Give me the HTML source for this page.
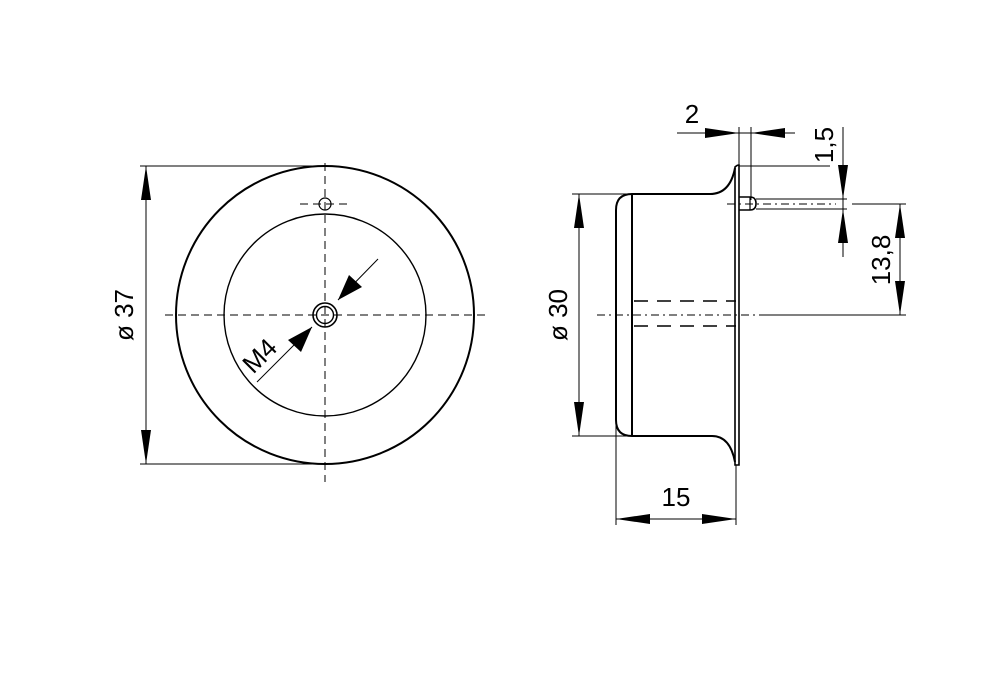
<!DOCTYPE html>
<html><head><style>body{margin:0;background:#fff}svg{display:block}</style></head>
<body>
<svg width="1000" height="698" viewBox="0 0 1000 698" xmlns="http://www.w3.org/2000/svg" font-family="Liberation Sans, DejaVu Sans, sans-serif">
<g fill="none" stroke="#000">
<!-- left view -->
<circle cx="325" cy="315" r="149" stroke-width="2"/>
<circle cx="325" cy="315" r="101" stroke-width="1.4"/>
<circle cx="325" cy="204" r="6" stroke-width="1.2"/>
<circle cx="325" cy="315" r="12" stroke-width="1.6"/>
<circle cx="325" cy="315" r="8.5" stroke-width="1.4"/>
<g stroke-width="1" stroke-dasharray="8,5">
<line x1="165" y1="315" x2="488" y2="315"/>
<line x1="325" y1="163" x2="325" y2="482"/>
<line x1="300" y1="204" x2="352" y2="204"/>
</g>
<g stroke-width="1">
<line x1="140" y1="166" x2="325" y2="166"/>
<line x1="140" y1="464" x2="325" y2="464"/>
<line x1="146" y1="166" x2="146" y2="464"/>
<line x1="378" y1="259" x2="338" y2="300"/>
<line x1="312" y1="327" x2="257" y2="382"/>
</g>
<!-- right view -->
<path d="M735 465 V167 Q737 165 739 165 V465 Z" stroke-width="1.6"/>
<path d="M735 168 Q730 194 710 194 H632 M616 420 V210 Q616 194 632 194 M632 194 V436 M616 420 Q616 436 632 436 H712 Q730 436 735 462" stroke-width="2"/>
<path d="M739 197 H750 Q756 197 756 203.5 Q756 210 750 210 H739" stroke-width="1.6"/>
<line x1="750" y1="197" x2="750" y2="210" stroke-width="1.2"/>
<g stroke-width="1.6" stroke-dasharray="14,9">
<line x1="634" y1="301" x2="736" y2="301"/>
<line x1="634" y1="326" x2="736" y2="326"/>
</g>
<g stroke-width="1" stroke-dasharray="8,4,2,4">
<line x1="597" y1="315" x2="762" y2="315"/>
<line x1="727" y1="204" x2="836" y2="204"/>
</g>
<g stroke-width="1">
<line x1="762" y1="315" x2="906" y2="315"/>
<line x1="739" y1="166" x2="830" y2="166"/>
<line x1="756" y1="199" x2="847" y2="199"/>
<line x1="756" y1="209" x2="847" y2="209"/>
<line x1="852" y1="204" x2="906" y2="204"/>
<line x1="843" y1="127" x2="843" y2="257"/>
<line x1="900" y1="204" x2="900" y2="315"/>
<line x1="677" y1="133" x2="795" y2="133"/>
<line x1="739" y1="127" x2="739" y2="165"/>
<line x1="751" y1="127" x2="751" y2="200"/>
<line x1="572" y1="194" x2="632" y2="194"/>
<line x1="572" y1="436" x2="632" y2="436"/>
<line x1="579" y1="194" x2="579" y2="436"/>
<line x1="616" y1="420" x2="616" y2="525"/>
<line x1="736" y1="465" x2="736" y2="525"/>
<line x1="616" y1="519" x2="736" y2="519"/>
</g>
</g>
<g fill="#000">
<!-- arrows -->
<path d="M146 166 l-5 34 h10 z"/><path d="M146 464 l-5 -34 h10 z"/>
<path d="M338 300 l11 -25 l13 12 z"/>
<path d="M312 327 l-11 25 l-13 -12 z"/>
<path d="M739 133 l-34 -5 v10 z"/><path d="M751 133 l34 -5 v10 z"/>
<path d="M843 199 l-5 -34 h10 z"/><path d="M843 209 l-5 34 h10 z"/>
<path d="M900 204 l-5 34 h10 z"/><path d="M900 315 l-5 -34 h10 z"/>
<path d="M579 194 l-5 34 h10 z"/><path d="M579 436 l-5 -34 h10 z"/>
<path d="M616 519 l34 -5 v10 z"/><path d="M736 519 l-34 -5 v10 z"/>
</g>
<g font-size="26" fill="#000">
<text x="0" y="0" transform="translate(133,315) rotate(-90)" text-anchor="middle">ø 37</text>
<text x="0" y="0" transform="translate(567,315) rotate(-90)" text-anchor="middle">ø 30</text>
<text x="0" y="0" transform="translate(833,145) rotate(-90)" text-anchor="middle">1,5</text>
<text x="0" y="0" transform="translate(890,260) rotate(-90)" text-anchor="middle">13,8</text>
<text x="692" y="123" text-anchor="middle">2</text>
<text x="676" y="506" text-anchor="middle">15</text>
<text x="0" y="0" transform="translate(266,362) rotate(-45)" text-anchor="middle">M4</text>
</g>
</svg>
</body></html>
